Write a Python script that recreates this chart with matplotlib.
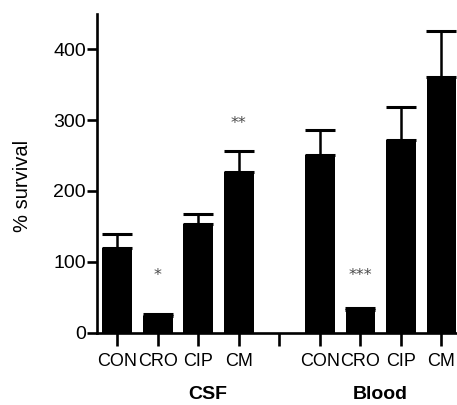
import matplotlib
matplotlib.use("Agg")
import matplotlib.pyplot as plt

groups = ["CSF", "Blood"]
treatments = ["CON", "CRO", "CIP", "CM"]
csf_mean = [119, 23, 154, 227]
csf_err = [20, 3, 14, 29]
blood_mean = [251, 32, 272, 361]
blood_err = [35, 3, 46, 65]
csf_stars = ["", "*", "", "**"]
blood_stars = ["", "***", "", ""]
star_y = [80, 80, 0, 296]
yticks = [0, 100, 200, 300, 400]

plt.rcParams["font.family"] = ["Liberation Sans", "DejaVu Sans"]

fig = plt.figure(figsize=(4.57, 4.05), dpi=100)
ax = fig.add_axes([0.2123, 0.179, 0.787, 0.7864])

n = len(treatments)
xs_csf = list(range(n))
xs_blood = [n + 1 + i for i in range(n)]
xs = xs_csf + [n] + xs_blood
means = csf_mean + blood_mean
errs = csf_err + blood_err
stars = csf_stars + blood_stars
bar_x = xs_csf + xs_blood

ax.bar(bar_x, means, width=0.73, color="black", zorder=2)
ax.errorbar(bar_x, means, yerr=[[0] * len(errs), errs], fmt="none",
            ecolor="black", elinewidth=1.8, capsize=11, capthick=2.2, zorder=1)

sy = star_y + star_y
for x, s, y in zip(bar_x, stars, sy):
    if s:
        ax.text(x, y, s, ha="center", va="center", fontsize=11.5,
                color="#4a4a4a", family="DejaVu Sans")

ax.set_xlim(-0.5, 8.38)
ax.set_ylim(0, 450)
ax.set_xticks(xs)
ax.set_xticklabels(treatments + [""] + treatments, fontsize=13)
ax.set_yticks(yticks)
ax.set_yticklabels([str(t) for t in yticks], fontsize=14)
ax.set_ylabel("% survival", fontsize=14.5)
ax.yaxis.set_label_coords(-0.18, 0.46)

for side in ["top", "right"]:
    ax.spines[side].set_visible(False)
for side in ["left", "bottom"]:
    ax.spines[side].set_linewidth(1.9)
ax.tick_params(axis="y", length=7, width=1.9, pad=1)
ax.tick_params(axis="x", length=9, width=1.9, pad=6)

ax.text(2.23, -0.196, groups[0], transform=ax.get_xaxis_transform(),
        ha="center", va="center", fontsize=14, fontweight="bold")
ax.text(6.49, -0.196, groups[1], transform=ax.get_xaxis_transform(),
        ha="center", va="center", fontsize=14, fontweight="bold")

fig.savefig("out.png", dpi=100)
